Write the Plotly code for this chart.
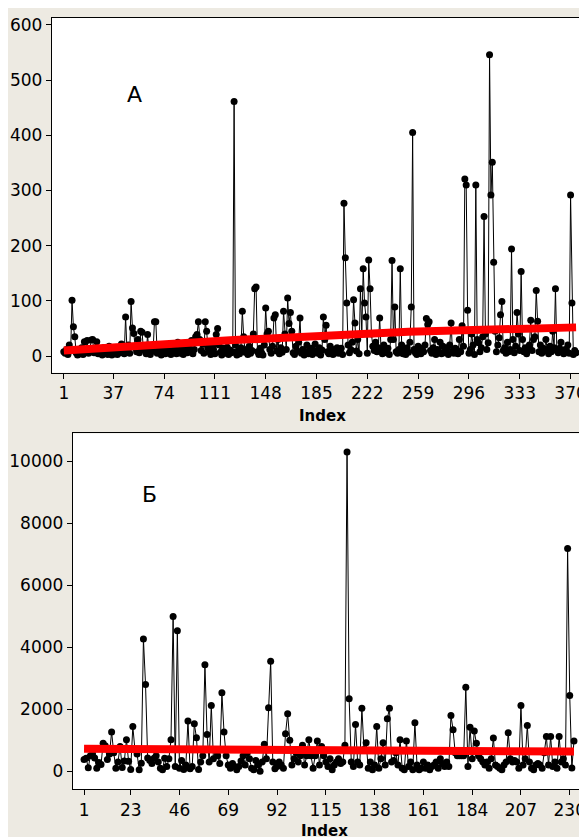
import plotly.graph_objects as go

# ---------------- Panel A data (index 1..374) ----------------
values_a = [
    8, 5, 12, 3, 20, 10, 101, 53, 35, 6, 2, 9, 4, 15, 3, 26, 8, 28, 5, 12,
    29, 30, 6, 10, 26, 4, 12, 7, 2, 15, 5, 9, 3, 18, 6, 2, 11, 4, 8, 3,
    14, 6, 22, 9, 4, 71, 12, 20, 5, 99, 51, 41, 15, 8, 30, 6, 45, 43, 12, 10,
    4, 39, 7, 3, 15, 9, 62, 62, 5, 12, 20, 2, 8, 14, 4, 18, 6, 10, 3, 22,
    7, 12, 4, 25, 9, 5, 16, 3, 11, 20, 6, 14, 8, 28, 4, 12, 35, 39, 62, 30,
    10, 22, 5, 62, 45, 15, 8, 3, 18, 12, 4, 39, 50, 20, 7, 2, 14, 9, 5, 16,
    3, 11, 6, 8, 461, 20, 2, 9, 4, 15, 81, 35, 7, 12, 3, 18, 5, 10, 40, 122,
    125, 8, 3, 14, 6, 2, 20, 87, 40, 45, 12, 5, 18, 69, 75, 9, 30, 4, 15, 7,
    81, 40, 12, 105, 59, 79, 45, 6, 3, 18, 9, 25, 69, 5, 12, 2, 8, 20, 4, 10,
    14, 3, 7, 22, 9, 5, 15, 2, 11, 71, 30, 56, 8, 4, 18, 10, 3, 12, 6, 15,
    5, 9, 14, 3, 277, 178, 96, 20, 6, 12, 25, 102, 60, 9, 30, 4, 122, 40, 158, 96,
    71, 5, 174, 122, 40, 18, 10, 25, 8, 15, 69, 12, 4, 20, 9, 6, 14, 3, 30, 173,
    30, 89, 8, 5, 12, 158, 20, 4, 10, 3, 15, 7, 25, 89, 405, 12, 6, 3, 18, 9,
    4, 14, 8, 20, 68, 57, 62, 10, 5, 15, 30, 3, 12, 8, 25, 4, 18, 6, 10, 15,
    3, 20, 60, 9, 5, 14, 12, 4, 30, 8, 55, 18, 321, 310, 83, 5, 12, 40, 20, 3,
    310, 30, 24, 8, 15, 35, 253, 40, 12, 24, 546, 292, 351, 170, 45, 8, 20, 33, 75, 99,
    10, 15, 5, 25, 8, 12, 194, 30, 6, 18, 79, 40, 10, 153, 30, 8, 15, 4, 12, 20,
    65, 10, 30, 35, 119, 63, 8, 20, 5, 14, 9, 30, 12, 4, 18, 8, 45, 15, 122, 10,
    6, 14, 25, 9, 4, 12, 8, 20, 5, 292, 96, 3, 10, 6,
]
index_a = list(range(1, len(values_a) + 1))
trend_a_idx = [1, 125, 252, 374]
trend_a_val = [10, 29, 44, 52]
xticks_a = [1, 37, 74, 111, 148, 185, 222, 259, 296, 333, 370]
yticks_a = [0, 100, 200, 300, 400, 500, 600]

# ---------------- Panel B data (index 1..232) ----------------
values_b = [
    380, 420, 110, 500, 560, 430, 100, 280, 220, 900, 820, 380, 560, 1264, 600, 100, 300, 800, 120, 330,
    1019, 320, 60, 1447, 700, 560, 50, 260, 4267, 2797, 430, 350, 250, 420, 500, 300, 100, 50, 420, 150,
    400, 1019, 4995, 150, 4534, 100, 350, 60, 200, 1618, 80, 150, 1533, 1083, 60, 300, 500, 3440, 1190, 300,
    2122, 400, 700, 500, 250, 2530, 1264, 500, 200, 100, 250, 150, 50, 150, 330, 500, 200, 600, 400, 100,
    50, 350, 200, 0, 300, 868, 400, 2048, 3547, 300, 80, 150, 300, 200, 100, 1212, 1855, 997, 200, 400,
    600, 300, 500, 836, 200, 500, 1019, 500, 100, 500, 975, 200, 800, 500, 300, 150, 400, 50, 200, 300,
    400, 250, 300, 836, 10300, 2338, 300, 150, 1511, 300, 200, 2036, 700, 923, 100, 300, 50, 200, 1447, 100,
    400, 923, 200, 1694, 2036, 300, 350, 600, 200, 1019, 100, 50, 975, 150, 300, 50, 1566, 200, 50, 100,
    300, 100, 200, 50, 150, 200, 300, 100, 400, 250, 150, 300, 150, 1801, 1341, 600, 500, 500, 500, 500,
    2711, 150, 1424, 400, 1296, 900, 500, 400, 300, 200, 300, 100, 400, 1072, 200, 150, 100, 50, 200, 300,
    1244, 400, 300, 350, 300, 100, 2122, 200, 400, 1479, 300, 100, 50, 200, 250, 200, 100, 600, 1125, 200,
    1125, 150, 300, 100, 1125, 300, 400, 200, 7192, 2444, 106, 975,
]
index_b = list(range(1, len(values_b) + 1))
trend_b_idx = [1, 25, 26, 210, 211, 232]
trend_b_val = [730, 725, 695, 670, 635, 635]
xticks_b = [1, 23, 46, 69, 92, 115, 138, 161, 184, 207, 230]
yticks_b = [0, 2000, 4000, 6000, 8000, 10000]

W, H = 579, 837
OFF = 8  # page body margin: figure sits at (8, 8) in the window
BG = "#EDEAE2"
FONT = "DejaVu Sans"

fig = go.Figure()
fig.add_trace(go.Scatter(x=index_a, y=values_a, mode="lines+markers",
                         line=dict(color="black", width=1),
                         marker=dict(color="black", size=7),
                         xaxis="x", yaxis="y", showlegend=False))
fig.add_trace(go.Scatter(x=trend_a_idx, y=trend_a_val, mode="lines",
                         line=dict(color="#FF0000", width=8),
                         xaxis="x", yaxis="y", showlegend=False))
fig.add_trace(go.Scatter(x=index_b, y=values_b, mode="lines+markers",
                         line=dict(color="black", width=1),
                         marker=dict(color="black", size=7),
                         xaxis="x2", yaxis="y2", showlegend=False))
fig.add_trace(go.Scatter(x=trend_b_idx, y=trend_b_val, mode="lines",
                         line=dict(color="#FF0000", width=8),
                         xaxis="x2", yaxis="y2", showlegend=False))

def px(sx):
    return (sx - OFF) / W

def py(sy):
    return 1 - (sy - OFF) / H

axis_common = dict(showgrid=False, zeroline=False, showline=True, linecolor="black",
                   linewidth=1, ticks="outside", ticklen=5, tickcolor="black",
                   tickformat="d", ticklabeloverflow="allow",
                   tickfont=dict(family=FONT, size=17, color="black"))

def label(text, sx, sy, size, bold=False):
    return dict(text=f"<b>{text}</b>" if bold else text, x=px(sx), y=py(sy),
                xref="paper", yref="paper", xanchor="center", yanchor="middle",
                showarrow=False, font=dict(family=FONT, size=size))

fig.update_layout(
    width=W, height=H,
    margin=dict(l=0, r=0, t=0, b=0),
    paper_bgcolor=BG, plot_bgcolor="white",
    font=dict(family=FONT, color="black"),
    xaxis=dict(domain=[px(52), 1], range=[-7.7, 380.5], tickvals=xticks_a,
               mirror=True, anchor="y", **axis_common),
    yaxis=dict(domain=[py(371), py(15)], range=[-30.1, 612.5], tickvals=yticks_a,
               anchor="x", **axis_common),
    xaxis2=dict(domain=[px(73), 1], range=[-4.31, 237.2], tickvals=xticks_b,
                mirror=True, anchor="y2", **axis_common),
    yaxis2=dict(domain=[py(789), py(432)], range=[-579, 10900], tickvals=yticks_b,
                anchor="x2", **axis_common),
    annotations=[
        label("А", 135, 92, 22),
        label("Б", 150, 493, 22),
        label("Index", 324, 414, 15, bold=True),
        label("Index", 326, 831, 15, bold=True),
    ],
)

fig.write_html("out.html")
